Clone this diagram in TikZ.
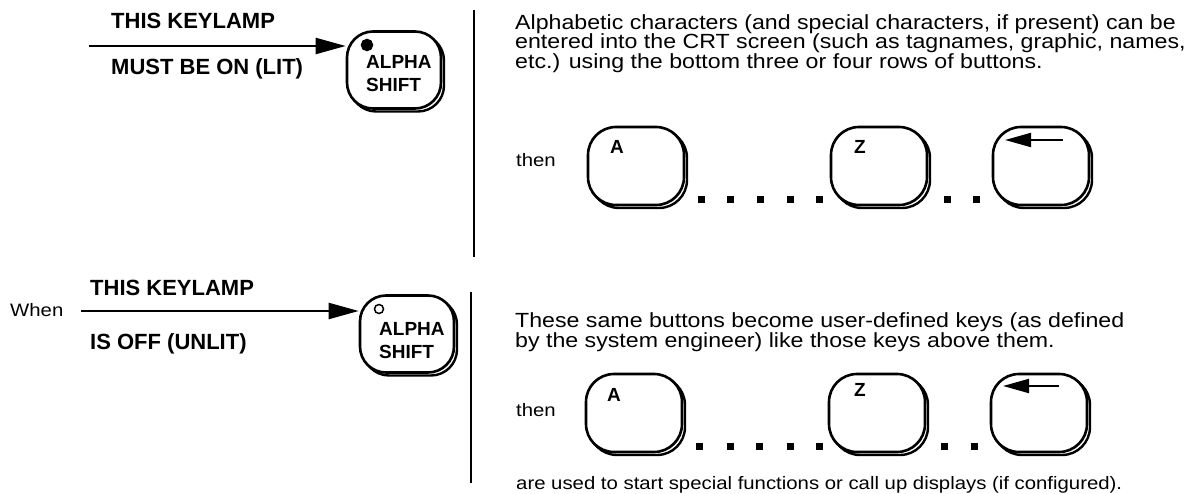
\documentclass[tikz,border=0pt]{standalone}
\usepackage{fontspec}
\setmainfont{Liberation Sans}
\newfontfamily\wideface{Liberation Sans}[FakeStretch=1.13]
\usetikzlibrary{arrows.meta,shadows}

\begin{document}
\begin{tikzpicture}[x=1pt, y=-1pt,
	caption/.style={font=\fontsize{22}{24}\selectfont\bfseries, anchor=base west, inner sep=0},
	bodytext/.style={font=\wideface\fontsize{20.5}{20}\selectfont, anchor=base west, inner sep=0},
	smalltext/.style={font=\wideface\fontsize{18}{18}\selectfont, anchor=base west, inner sep=0},
	keycap/.style={draw, line width=2.6pt, fill=white, rounded corners=28pt, minimum width=96pt, minimum height=78pt, inner sep=0,
		copy shadow={shadow xshift=3pt, shadow yshift=-3pt, draw=black, fill=white, line width=2.4pt}},
	shiftcap/.style={keycap, minimum width=94pt, minimum height=77pt, rounded corners=26pt},
	keyletter/.style={font=\fontsize{19}{20}\selectfont\bfseries, anchor=base, inner sep=0},
	shifttext/.style={font=\fontsize{19}{23}\selectfont\bfseries, anchor=base west, inner sep=0},
	lamp/.style={circle, draw, line width=1.5pt, minimum size=11pt, inner sep=0},
	pointer/.style={line width=2.2pt, -{Triangle[length=30pt, width=16pt]}},
	backarrow/.style={line width=2pt, -{Triangle[length=26pt, width=14pt]}},
	divider/.style={line width=2.5pt},
	dot/.style={fill=black, minimum size=7pt, inner sep=0}
]
\useasboundingbox (0,0) rectangle (1196,494);

% keylamp lit
\node[caption] (liton1) at (111,29) {THIS KEYLAMP};
\node[caption] (liton2) at (111,75) {MUST BE ON (LIT)};
\node[shiftcap] (shifton) at (394,70) {};
\node[shifttext] (alphaon) at (366,69) {ALPHA};
\node[shifttext] (shifton2) at (366,92) {SHIFT};
\node[lamp, fill=black] (lampon) at (367,45) {};
\coordinate (ptron) at (89,46);
\draw[pointer] (ptron) -- (ptron -| shifton.west);
\draw[divider] (474,10) -- (474,257);

\foreach \txt [count=\i] in {{Alphabetic characters (and special characters, if present) can be},
	{entered into the CRT screen (such as tagnames, graphic, names,},
	{etc.) using the bottom three or four rows of buttons.}}
	\node[bodytext] (alphatext\i) at (515,10+19.5*\i) {\txt};

\node[smalltext] (thenon) at (516,167) {then};
\node[keycap] (keyaon) at (636,166) {};
\node[keycap] (keyzon) at (879,166) {};
\node[keycap] (keybson) at (1041,166) {};
\node[keyletter] (letaon) at ([shift={(-19,-12)}]keyaon.center) {A};
\node[keyletter] (letzon) at ([shift={(-19,-12)}]keyzon.center) {Z};
\coordinate (bson1) at ([shift={(22,-26)}]keybson.center);
\coordinate (bson2) at ([shift={(-36,-26)}]keybson.center);
\draw[backarrow] (bson1) -- (bson2);
\foreach \x in {701,730,760,790,819,947,976}
	\node[dot] (doton\x) at (\x,200) {};

% keylamp unlit
\node[smalltext] (when) at (10,316) {When};
\node[caption] (litoff1) at (90,295) {THIS KEYLAMP};
\node[caption] (litoff2) at (90,349) {IS OFF (UNLIT)};
\node[shiftcap] (shiftoff) at (407,334) {};
\node[shifttext] (alphaoff) at (379,335) {ALPHA};
\node[shifttext] (shiftoff2) at (379,358) {SHIFT};
\node[lamp, fill=white, minimum size=9pt] (lampoff) at (379,309) {};
\coordinate (ptroff) at (81,311);
\draw[pointer] (ptroff) -- (ptroff -| shiftoff.west);
\draw[divider] (471,292) -- (471,483);

\node[bodytext] (usertext1) at (515,327) {These same buttons become user-defined keys (as defined};
\node[bodytext] (usertext2) at (515,347) {by the system engineer) like those keys above them.};

\node[smalltext] (thenoff) at (516,416) {then};
\node[keycap] (keyaoff) at (634,413) {};
\node[keycap] (keyzoff) at (877,413) {};
\node[keycap] (keybsoff) at (1039,413) {};
\node[keyletter] (letaoff) at ([shift={(-20,-12)}]keyaoff.center) {A};
\node[keyletter] (letzoff) at ([shift={(-17,-17)}]keyzoff.center) {Z};
\coordinate (bsoff1) at ([shift={(20,-27)}]keybsoff.center);
\coordinate (bsoff2) at ([shift={(-36,-27)}]keybsoff.center);
\draw[backarrow] (bsoff1) -- (bsoff2);
\foreach \x in {699,730,759,790,819,944,974}
	\node[dot] (dotoff\x) at (\x,446) {};

\node[smalltext] (usedtext) at (516,489) {are used to start special functions or call up displays (if configured).};
\end{tikzpicture}
\end{document}
